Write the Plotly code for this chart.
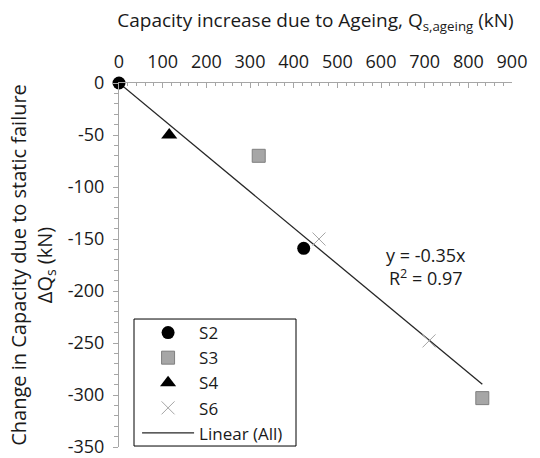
import numpy as np
import plotly.graph_objects as go

# Data
s2_x = [0, 423]
s2_y = [0, -159]
s3_x = [320, 832]
s3_y = [-70, -303]
s4_x = [115]
s4_y = [-50]
s6_x = [458, 710]
s6_y = [-150, -248]

x_ticks = [0, 100, 200, 300, 400, 500, 600, 700, 800, 900]
y_ticks = [0, -50, -100, -150, -200, -250, -300, -350]

# Linear trend through origin on all points
all_x = np.array(s2_x + s3_x + s4_x + s6_x, dtype=float)
all_y = np.array(s2_y + s3_y + s4_y + s6_y, dtype=float)
slope = float((all_x * all_y).sum() / (all_x ** 2).sum())
r2 = 0.97
fit_x = [0.0, float(all_x.max())]
fit_y = [slope * v for v in fit_x]

FONT = "Open Sans"
TXT = "#1a1a1a"
AX = "#a6a6a6"

fig = go.Figure()
fig.add_trace(go.Scatter(x=fit_x, y=fit_y, mode="lines", name="Linear (All)",
                         legendrank=5, cliponaxis=False,
                         line=dict(color="#262626", width=1.3)))
fig.add_trace(go.Scatter(x=s2_x, y=s2_y, mode="markers", name="S2", legendrank=1,
                         cliponaxis=False,
                         marker=dict(symbol="circle", size=13, color="black")))
fig.add_trace(go.Scatter(x=s3_x, y=s3_y, mode="markers", name="S3", legendrank=2,
                         cliponaxis=False,
                         marker=dict(symbol="square", size=13, color="#a6a6a6",
                                     line=dict(color="#7f7f7f", width=1))))
fig.add_trace(go.Scatter(x=s4_x, y=s4_y, mode="markers", name="S4", legendrank=3,
                         cliponaxis=False,
                         marker=dict(symbol="triangle-up", size=14, color="black")))
fig.add_trace(go.Scatter(x=s6_x, y=s6_y, mode="markers", name="S6", legendrank=4,
                         cliponaxis=False,
                         marker=dict(symbol="x-thin", size=13, color="#a6a6a6",
                                     line=dict(color="#a6a6a6", width=1))))

fig.update_layout(
    width=540, height=458,
    margin=dict(l=119, r=28, t=83, b=11, autoexpand=False),
    paper_bgcolor="white", plot_bgcolor="white",
    font=dict(family=FONT, size=18, color=TXT),
    showlegend=True,
    legend=dict(x=0.046, y=0.3626, xanchor="left", yanchor="top",
                borderwidth=0, bgcolor="rgba(0,0,0,0)",
                font=dict(size=17), traceorder="normal", itemwidth=52,
                entrywidth=104, tracegroupgap=0),
    xaxis=dict(range=[0, 900], side="top", tickvals=x_ticks,
               ticktext=[str(v) for v in x_ticks], automargin=False,
               ticklabeloverflow="allow",
               ticks="inside", ticklen=5, tickcolor=AX, tickwidth=1,
               minor=dict(dtick=20, ticks="inside", ticklen=3, tickcolor=AX),
               showline=True, linecolor=AX, linewidth=1, showgrid=False,
               zeroline=False, ticklabelstandoff=7,
               title=dict(text="Capacity increase due to Ageing, Q<sub>s,ageing</sub> (kN)",
                          font=dict(size=19), standoff=16)),
    yaxis=dict(range=[-350, 0], tickvals=y_ticks,
               ticktext=[str(v) for v in y_ticks], automargin=False,
               ticklabeloverflow="allow",
               ticks="outside", ticklen=5, tickcolor=AX, tickwidth=1,
               minor=dict(dtick=10, ticks="outside", ticklen=4, tickcolor=AX),
               showline=True, linecolor=AX, linewidth=1, showgrid=False,
               zeroline=False, ticklabelstandoff=5,
               title=dict(text="Change in Capacity due to static failure<br>ΔQ<sub>s</sub> (kN)",
                          font=dict(size=20), standoff=9)),
    shapes=[dict(type="rect", xref="paper", yref="paper",
                 x0=0.0382, x1=0.4504, y0=0.0027, y1=0.3516,
                 line=dict(color="black", width=1), fillcolor="white",
                 layer="above")],
)

fig.add_annotation(x=0.781, y=0.495, xref="paper", yref="paper",
                   xanchor="center", yanchor="middle",
                   text=f"y = {slope:.2f}x<br>R<sup>2</sup> = {r2:.2f}",
                   showarrow=False, font=dict(size=18), align="center")

fig.write_html("out.html")
